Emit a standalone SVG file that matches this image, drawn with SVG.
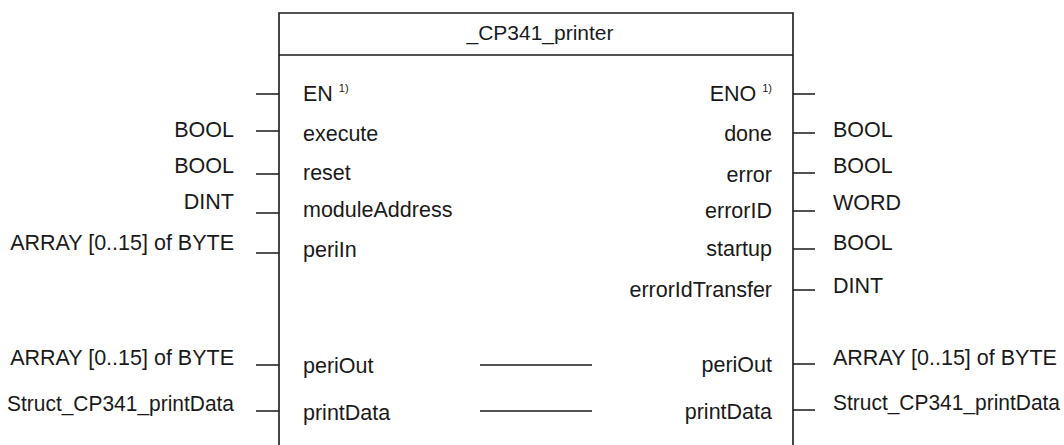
<svg xmlns="http://www.w3.org/2000/svg" width="1064" height="445" viewBox="0 0 1064 445">
<style>
text{font-family:"Liberation Sans",Arial,sans-serif;font-size:21.5px;fill:#1a1a1a}
.t{font-size:21px}
.e{text-anchor:end}
.m{text-anchor:middle}
.sup{font-size:11px}
.ln{stroke:#1a1a1a;stroke-width:1.6;fill:none}
</style>
<rect width="1064" height="445" fill="#fff"/>
<g id="block">
<path class="ln" d="M279,445 V13 H793 V445 M279,55 H793"/>
<text class="m t" x="540" y="40">_CP341_printer</text>
</g>
<g id="connectors">
<path class="ln" d="M256,94 H279 M256,131 H279 M256,174 H279 M256,213 H279 M256,253 H279 M256,365 H279 M256,411 H279"/>
<path class="ln" d="M793,94 H815 M793,133 H815 M793,173 H815 M793,211 H815 M793,249 H815 M793,290 H815 M793,364 H815 M793,410 H815"/>
<path class="ln" d="M480,365 H592 M480,411 H592"/>
</g>
<g id="inputs">
<text x="303" y="101">EN <tspan class="sup" dy="-9">1)</tspan></text>
<text x="303" y="141">execute</text>
<text x="303" y="180">reset</text>
<text x="303" y="217">moduleAddress</text>
<text x="303" y="257">periIn</text>
<text x="303" y="373">periOut</text>
<text x="303" y="420">printData</text>
</g>
<g id="input-types">
<text class="e" x="234" y="137">BOOL</text>
<text class="e" x="234" y="173">BOOL</text>
<text class="e" x="234" y="209">DINT</text>
<text class="e" x="234" y="250">ARRAY [0..15] of BYTE</text>
<text class="e" x="234" y="365">ARRAY [0..15] of BYTE</text>
<text x="7" y="411" textLength="227" lengthAdjust="spacingAndGlyphs">Struct_CP341_printData</text>
</g>
<g id="outputs">
<text class="e" x="772" y="101">ENO <tspan class="sup" dy="-9">1)</tspan></text>
<text class="e" x="772" y="141">done</text>
<text class="e" x="772" y="182">error</text>
<text class="e" x="772" y="218">errorID</text>
<text class="e" x="772" y="256">startup</text>
<text class="e" x="772" y="297">errorIdTransfer</text>
<text class="e" x="772" y="372">periOut</text>
<text class="e" x="772" y="419">printData</text>
</g>
<g id="output-types">
<text x="833" y="137">BOOL</text>
<text x="833" y="173">BOOL</text>
<text x="833" y="210">WORD</text>
<text x="833" y="250">BOOL</text>
<text x="833" y="293">DINT</text>
<text x="833" y="365">ARRAY [0..15] of BYTE</text>
<text x="833" y="410" textLength="227" lengthAdjust="spacingAndGlyphs">Struct_CP341_printData</text>
</g>
</svg>
